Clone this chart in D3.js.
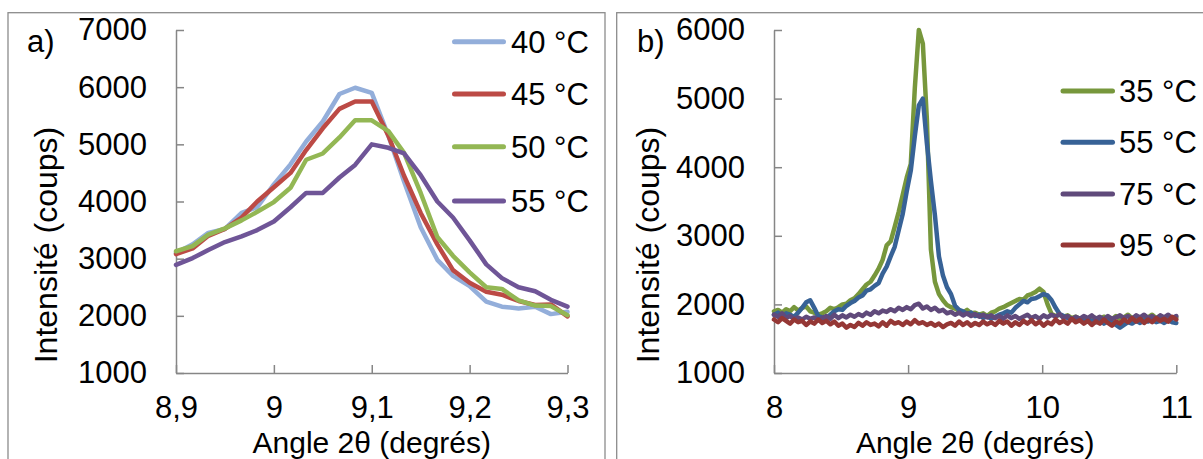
<!DOCTYPE html>
<html><head><meta charset="utf-8">
<script src="https://cdn.jsdelivr.net/npm/d3@7"></script>
<style>
body{margin:0;background:#fff}
svg{display:block}
text{font-family:"Liberation Sans",Arial,sans-serif;fill:#000}
</style>
</head><body>
<svg id="c" width="1203" height="459"></svg>
<script>
// ---------- Panel a data ----------
const aX = [8.900,8.917,8.933,8.950,8.967,8.983,9.000,9.017,9.033,9.050,9.067,9.083,9.100,9.117,9.133,9.150,9.167,9.183,9.200,9.217,9.233,9.250,9.267,9.283,9.300];
const a40 = [3100,3250,3450,3520,3800,3900,4300,4650,5050,5400,5880,5990,5900,5150,4350,3550,2980,2700,2520,2250,2160,2130,2160,2030,2070];
const a45 = [3080,3180,3400,3520,3720,4000,4250,4500,4900,5280,5620,5750,5750,5150,4450,3800,3250,2800,2580,2420,2370,2260,2190,2200,1990];
const a50 = [3130,3220,3420,3530,3670,3820,3990,4240,4730,4840,5120,5420,5420,5230,4850,4150,3380,3050,2760,2500,2470,2270,2180,2170,2010];
const a55 = [2890,3010,3150,3290,3390,3500,3650,3900,4150,4150,4420,4640,5000,4940,4840,4460,4000,3720,3320,2900,2660,2500,2430,2280,2160];
const aNames = ["40 °C","45 °C","50 °C","55 °C"];
const aXTicks = [8.9,9.0,9.1,9.2,9.3];
const aXTickLabels = ["8,9","9","9,1","9,2","9,3"];
const aYTicks = [1000,2000,3000,4000,5000,6000,7000];

// ---------- Panel b data ----------
const bX = [8.00,8.03,8.06,8.09,8.12,8.15,8.18,8.21,8.24,8.27,8.30,8.33,8.36,8.39,8.42,8.45,8.48,8.51,8.54,8.57,
8.60,8.63,8.66,8.69,8.72,8.75,8.78,8.81,8.84,8.87,8.90,8.93,8.96,8.99,9.02,9.05,9.08,9.11,9.14,9.17,
9.20,9.23,9.26,9.29,9.32,9.35,9.38,9.41,9.44,9.47,9.50,9.53,9.56,9.59,9.62,9.65,9.68,9.71,9.74,9.77,
9.80,9.83,9.86,9.89,9.92,9.95,9.98,10.01,10.04,10.07,10.10,10.13,10.16,10.19,10.22,10.25,10.28,10.31,10.34,10.37,
10.40,10.43,10.46,10.49,10.52,10.55,10.58,10.61,10.64,10.67,10.70,10.73,10.76,10.79,10.82,10.85,10.88,10.91,10.94,10.97,11.00];
const b35 = [1900,1920,1880,1930,1900,1960,1910,1950,1970,1900,
1880,1850,1870,1900,1950,1930,1960,2000,2010,2060,
2090,2150,2220,2290,2330,2420,2520,2650,2860,2920,
3130,3350,3600,3850,4050,5150,6000,5800,4700,2800,
2330,2150,2060,1990,1960,1940,1900,1880,1920,1870,
1880,1850,1870,1830,1880,1900,1940,1960,1990,2020,
2050,2080,2070,2130,2150,2180,2230,2180,2000,1860,
1830,1850,1820,1840,1800,1820,1790,1810,1780,1820,
1800,1790,1820,1800,1780,1830,1790,1810,1850,1800,
1820,1790,1830,1810,1850,1800,1830,1790,1820,1800,
1810];
const b55 = [1850,1880,1830,1870,1850,1820,1880,1950,2030,2060,
1950,1830,1810,1800,1850,1900,1930,1920,1980,2020,
2050,2100,2130,2200,2220,2270,2310,2450,2550,2700,
2840,3080,3320,3650,3950,4450,4900,5000,4350,3800,
3300,2700,2420,2250,2150,1980,1920,1900,1860,1880,
1830,1850,1800,1830,1790,1820,1850,1870,1900,1880,
1950,2000,2050,2030,2080,2090,2120,2150,2130,2060,
1950,1860,1830,1800,1790,1760,1790,1750,1780,1760,
1740,1770,1720,1760,1740,1700,1660,1700,1740,1720,
1760,1730,1770,1750,1780,1740,1760,1730,1770,1740,
1730];
const b75 = [1850,1820,1870,1800,1830,1790,1810,1780,1820,1790,
1810,1770,1800,1830,1790,1850,1800,1840,1810,1850,
1820,1860,1830,1880,1850,1900,1870,1910,1890,1930,
1900,1950,1920,1960,1930,1990,2010,1940,1970,1920,
1950,1900,1920,1870,1890,1850,1880,1840,1870,1830,
1860,1820,1850,1810,1840,1800,1830,1790,1840,1800,
1830,1790,1820,1850,1800,1830,1790,1840,1810,1850,
1820,1860,1800,1830,1780,1820,1790,1830,1800,1840,
1790,1820,1780,1830,1790,1810,1840,1800,1830,1790,
1840,1810,1850,1800,1830,1790,1840,1810,1850,1800,
1830];
const b95 = [1780,1740,1800,1760,1720,1780,1740,1760,1700,1750,
1720,1780,1730,1760,1710,1750,1690,1720,1660,1700,
1670,1730,1690,1740,1700,1720,1680,1740,1690,1760,
1720,1740,1700,1750,1710,1770,1720,1740,1700,1730,
1690,1720,1670,1710,1730,1690,1750,1700,1740,1690,
1730,1700,1750,1710,1740,1700,1760,1720,1750,1690,
1740,1700,1760,1720,1770,1710,1750,1690,1740,1710,
1780,1730,1760,1720,1790,1740,1770,1720,1760,1700,
1750,1720,1780,1730,1690,1750,1720,1780,1740,1800,
1750,1790,1730,1780,1740,1800,1760,1790,1750,1820,
1780];
const bNames = ["35 °C","55 °C","75 °C","95 °C"];
const bXTicks = [8,9,10,11];
const bXTickLabels = ["8","9","10","11"];
const bYTicks = [1000,2000,3000,4000,5000,6000];

const svg = d3.select("#c");
const AXIS_COLOR = "#868686";

function panel(cfg){
  const g = svg.append("g");
  g.append("rect")
    .attr("x", cfg.frame[0]).attr("y", cfg.frame[1])
    .attr("width", cfg.frame[2]).attr("height", cfg.frame[3])
    .attr("fill", "none").attr("stroke", "#8c8c8c").attr("stroke-width", 1.3);

  const x = d3.scaleLinear().domain(cfg.xDomain).range([cfg.left, cfg.right]);
  const y = d3.scaleLinear().domain(cfg.yDomain).range([cfg.bottom, cfg.top]);

  const yAxis = d3.axisLeft(y).tickValues(cfg.yTicks).tickSize(-8).tickSizeOuter(0).tickPadding(29)
    .tickFormat(d3.format("d"));
  const gy = g.append("g").attr("transform", `translate(${cfg.left},0)`).call(yAxis);
  const xAxis = d3.axisBottom(x).tickValues(cfg.xTicks).tickSize(-8).tickSizeOuter(0).tickPadding(23)
    .tickFormat((d,i) => cfg.xTickLabels[i]);
  const gx = g.append("g").attr("transform", `translate(0,${cfg.bottom})`).call(xAxis);
  [gx, gy].forEach(a => {
    a.attr("font-family", null).attr("font-size", null);
    a.selectAll("path,line").attr("stroke", AXIS_COLOR).attr("stroke-width", 1.5);
    a.selectAll("text").attr("font-size", 31).attr("fill", "#000");
  });

  const line = d3.line().x(d => x(d[0])).y(d => y(d[1]));
  cfg.series.forEach((s, i) => {
    g.append("path")
      .datum(cfg.xs.map((xv, j) => [xv, s[j]]))
      .attr("d", line)
      .attr("fill", "none")
      .attr("stroke", cfg.colors[i])
      .attr("stroke-width", 4.5)
      .attr("stroke-linejoin", "round")
      .attr("stroke-linecap", "round");
  });

  // legend
  cfg.names.forEach((n, i) => {
    const ly = cfg.legendY[i];
    g.append("line")
      .attr("x1", cfg.legendX[0]).attr("x2", cfg.legendX[1])
      .attr("y1", ly).attr("y2", ly)
      .attr("stroke", cfg.colors[i]).attr("stroke-width", 5).attr("stroke-linecap", "round");
    g.append("text").attr("x", cfg.legendX[2]).attr("y", ly).attr("dy", "0.35em")
      .attr("font-size", 31).text(n);
  });

  // titles
  g.append("text").attr("x", (cfg.left + cfg.right) / 2).attr("y", 452.5)
    .attr("text-anchor", "middle").attr("font-size", 30).text("Angle 2θ (degrés)");
  g.append("text").attr("transform", `translate(${cfg.yTitleX},245) rotate(-90)`)
    .attr("text-anchor", "middle").attr("font-size", 32).text("Intensité (coups)");
  g.append("text").attr("x", cfg.tagX).attr("y", 52).attr("font-size", 31).text(cfg.tag);
}

panel({
  frame: [8, 12.7, 597, 470],
  left: 176, right: 567.5, top: 30, bottom: 373,
  xDomain: [8.9, 9.3], yDomain: [1000, 7000],
  xTicks: aXTicks, xTickLabels: aXTickLabels, yTicks: aYTicks,
  xs: aX, series: [a40, a45, a50, a55],
  colors: ["#93AEDA", "#BC4A45", "#93B754", "#6F5597"],
  names: aNames,
  legendX: [454.5, 503.5, 511], legendY: [41.7, 94, 146.7, 201],
  yTitleX: 57, tagX: 27, tag: "a)"
});

panel({
  frame: [616.7, 12.7, 620, 470],
  left: 774, right: 1176.3, top: 30, bottom: 373,
  xDomain: [8, 11], yDomain: [1000, 6000],
  xTicks: bXTicks, xTickLabels: bXTickLabels, yTicks: bYTicks,
  xs: bX, series: [b35, b55, b75, b95],
  colors: ["#77973C", "#376296", "#604A7B", "#953735"],
  names: bNames,
  legendX: [1063, 1112.5, 1119], legendY: [91, 142.3, 194, 245],
  yTitleX: 659, tagX: 637, tag: "b)"
});
</script>
</body></html>
